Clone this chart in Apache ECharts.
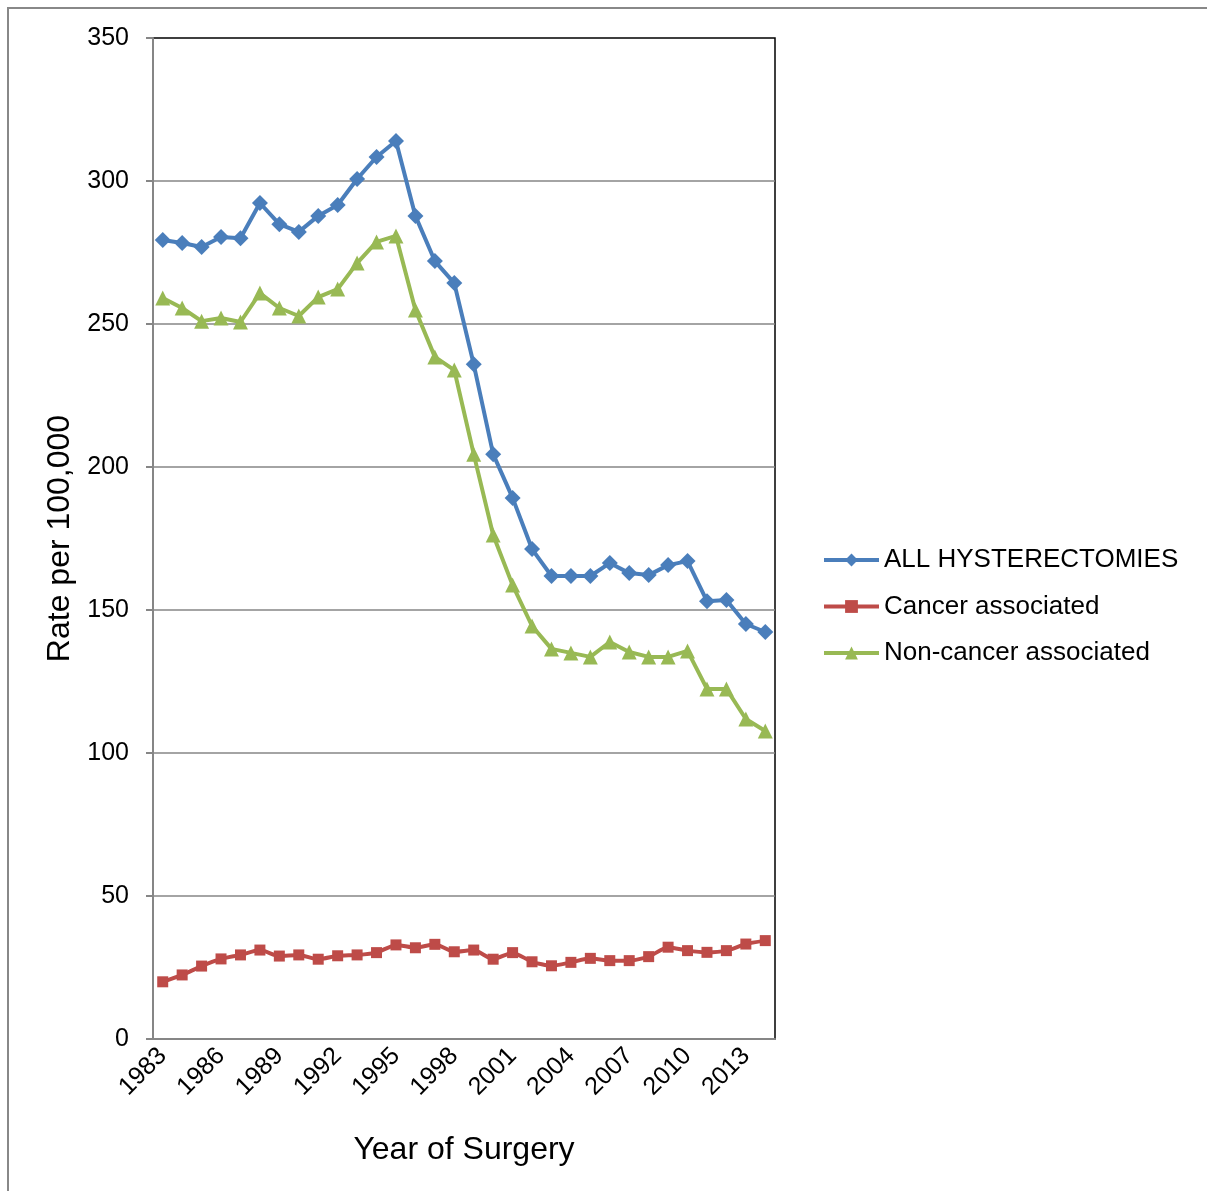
<!DOCTYPE html>
<html>
<head>
<meta charset="utf-8">
<script src="https://cdn.jsdelivr.net/npm/echarts@6/dist/echarts.min.js"></script>
<style>
  html, body { margin: 0; padding: 0; background: #fff; }
  #main { width: 1207px; height: 1191px; }
</style>
</head>
<body>
<div id="main"></div>
<script>
const years = [];
for (let y = 1983; y <= 2014; y++) years.push(String(y));

const allHysterectomies = [279.4, 278.3, 276.9, 280.4, 280.0, 292.3, 284.9, 282.2, 287.8, 291.6,
  300.7, 308.4, 314.0, 287.8, 272.0, 264.3, 235.9, 204.5, 189.2, 171.3,
  161.9, 161.9, 161.9, 166.4, 162.9, 162.2, 165.7, 167.1, 153.1, 153.5, 145.1, 142.3];

const cancerAssociated = [20.0, 22.4, 25.5, 28.0, 29.4, 31.1, 29.0, 29.4, 27.9, 29.1,
  29.4, 30.2, 32.9, 31.9, 33.1, 30.5, 31.1, 27.9, 30.2, 27.0,
  25.6, 26.8, 28.2, 27.4, 27.4, 28.8, 32.1, 30.9, 30.3, 30.9, 33.2, 34.4];

const nonCancerAssociated = [259.1, 255.6, 251.0, 252.1, 250.7, 260.8, 255.6, 252.8, 259.4, 262.2,
  271.3, 278.7, 280.8, 254.9, 238.5, 233.9, 204.5, 176.2, 158.7, 144.4,
  136.4, 135.0, 133.6, 138.8, 135.3, 133.6, 133.6, 135.7, 122.4, 122.4, 111.9, 107.7];

const font = 'Liberation Sans, Arial, sans-serif';
const axisGray = '#868686';

const chart = echarts.init(document.getElementById('main'));

chart.setOption({
  animation: false,
  backgroundColor: '#fff',
  textStyle: { fontFamily: font, color: '#000' },
  graphic: [{
    type: 'rect',
    shape: { x: 8, y: 8, width: 1240, height: 1240 },
    style: { fill: 'none', stroke: '#888', lineWidth: 2 },
    silent: true
  }],
  grid: {
    left: 153, right: 432, top: 38, bottom: 152,
    show: true, borderColor: '#000', borderWidth: 1.5, backgroundColor: 'transparent'
  },
  legend: {
    orient: 'vertical',
    left: 822,
    top: 547,
    padding: 0,
    itemWidth: 55,
    itemHeight: 16,
    itemGap: 20.5,
    lineStyle: { width: 4 },
    textStyle: { fontFamily: font, fontSize: 26, color: '#000' },
    data: ['ALL HYSTERECTOMIES', 'Cancer associated', 'Non-cancer associated']
  },
  xAxis: {
    type: 'category',
    data: years,
    boundaryGap: true,
    name: 'Year of Surgery',
    nameLocation: 'middle',
    nameGap: 95,
    nameTextStyle: { fontFamily: font, fontSize: 32, color: '#000' },
    axisLine: { lineStyle: { color: axisGray, width: 2 } },
    axisTick: { interval: 0, length: 7, lineStyle: { color: axisGray, width: 2 } },
    axisLabel: { interval: 2, rotate: 45, fontSize: 25, color: '#000', fontFamily: font, margin: 13 },
    splitLine: { show: false }
  },
  yAxis: {
    type: 'value',
    min: 0, max: 350, interval: 50,
    name: 'Rate per 100,000',
    nameLocation: 'middle',
    nameGap: 76,
    nameTextStyle: { fontFamily: font, fontSize: 32, color: '#000' },
    axisLine: { show: true, lineStyle: { color: axisGray, width: 2 } },
    axisTick: { show: true, length: 7, lineStyle: { color: axisGray, width: 2 } },
    axisLabel: { fontSize: 25, color: '#000', fontFamily: font, margin: 24 },
    splitLine: { show: true, showMinLine: false, showMaxLine: false, lineStyle: { color: axisGray, width: 1.5 } }
  },
  series: [
    {
      name: 'ALL HYSTERECTOMIES',
      type: 'line',
      data: allHysterectomies,
      symbol: 'diamond',
      symbolSize: 16,
      showAllSymbol: true,
      lineStyle: { color: '#4a7ebb', width: 4 },
      itemStyle: { color: '#4a7ebb' }
    },
    {
      name: 'Cancer associated',
      type: 'line',
      data: cancerAssociated,
      symbol: 'rect',
      symbolSize: 11,
      showAllSymbol: true,
      smooth: 0.2,
      lineStyle: { color: '#be4b48', width: 4 },
      itemStyle: { color: '#be4b48' }
    },
    {
      name: 'Non-cancer associated',
      type: 'line',
      data: nonCancerAssociated,
      symbol: 'triangle',
      symbolSize: 15,
      showAllSymbol: true,
      lineStyle: { color: '#98b954', width: 4 },
      itemStyle: { color: '#98b954' }
    }
  ]
});
</script>
</body>
</html>
